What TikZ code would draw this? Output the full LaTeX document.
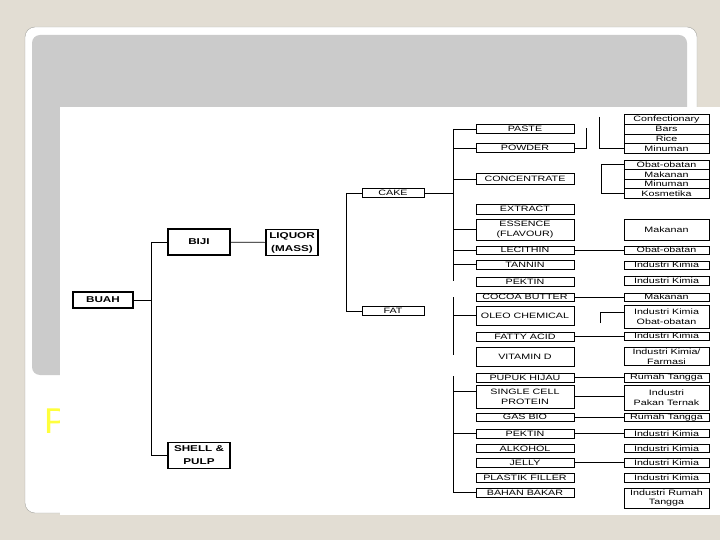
\documentclass[tikz,border=0pt]{standalone}
\usepackage{fontspec}
\setmainfont{Liberation Sans}
\newfontfamily\bagan[FakeStretch=1.38]{Liberation Sans}
\usepackage{tikz}
\usetikzlibrary{positioning}
\definecolor{LatarKrem}{RGB}{226,221,211}
\definecolor{PanelAbu}{RGB}{203,203,203}
\definecolor{GarisBingkai}{RGB}{165,165,160}
\definecolor{KuningJudul}{RGB}{255,255,60}
\tikzset{
  kotak/.style={draw,line width=0.7bp,inner sep=0pt,align=center,
    font=\bagan\fontsize{7.8}{10}\selectfont},
  kiri/.style={kotak,minimum width=98bp},
  kanan/.style={kotak,minimum width=85bp},
  tebal/.style={draw,line width=1.6bp,inner sep=0pt,align=center,
    minimum width=62bp,minimum height=26bp,
    font=\bagan\bfseries\fontsize{8.5}{13}\selectfont},
  garis/.style={line width=0.7bp}
}

\begin{document}
\begin{tikzpicture}[x=1bp,y=-1bp]
  \useasboundingbox (0,0) rectangle (720,540);
  \fill[LatarKrem] (0,0) rectangle (720,540);
  \filldraw[fill=white,draw=GarisBingkai,rounded corners=10bp] (25,27) rectangle (697,513);
  \fill[PanelAbu,rounded corners=8bp] (32,35) rectangle (687,375);
  \node[anchor=base west,inner sep=0pt,text=KuningJudul,
    font=\fontsize{36}{40}\selectfont] (judul) at (44,433) {P};
  \fill[white] (60,107) rectangle (720,515);

  \node[tebal,minimum width=60bp,minimum height=16bp] (buah) at (103,300) {BUAH};
  \node[tebal] (biji) at (199,242) {BIJI};
  \node[tebal,minimum width=52bp] (likuor) at (292,242.5) {LIQUOR\\(MASS)};
  \node[tebal] (kulit) at (199,455.5) {SHELL \&\\PULP};

  \node[kotak,minimum width=62bp,minimum height=9bp] (cake) at (393,193) {CAKE};
  \node[kotak,minimum width=62bp,minimum height=9bp] (fat) at (393,311) {FAT};

  \foreach \n/\y/\h/\t in {paste/129/9/PASTE, powder/148/9/POWDER,
      konsentrat/179/11/CONCENTRATE, ekstrak/209/10/EXTRACT,
      esens/229.5/21/{ESSENCE\\(FLAVOUR)}, lesitin/250/8/LECITHIN,
      tanin/264.5/9/TANNIN, pektina/281.5/9/PEKTIN, kakao/297/8/COCOA BUTTER,
      oleo/315.5/19/OLEO CHEMICAL, asam/336.5/9/FATTY ACID,
      vitamin/356.5/19/VITAMIN D, pupuk/377.5/9/PUPUK HIJAU,
      scp/396.5/23/{SINGLE CELL\\PROTEIN}, gasbio/417/8/GAS BIO,
      pektinb/433.5/9/PEKTIN, alkohol/448.5/8/ALKOHOL, jelly/462.5/9/JELLY,
      plastik/477.5/9/PLASTIK FILLER, bahan/492.5/9/BAHAN BAKAR}
    \node[kiri,minimum height=\h bp] (\n) at (525,\y) {\t};

  \foreach \n/\y/\h/\t in {konf/119.4/9.6/Confectionary, bars/129.2/9.6/Bars,
      rice/138.8/9.6/Rice, minum/148.3/9.6/Minuman,
      obat/164.75/9.5/Obat-obatan, makan/174.25/9.5/Makanan,
      minumb/183.75/9.5/Minuman, kosmetika/193.25/9.5/Kosmetika,
      makana/229.5/21/Makanan, obata/250/8/Obat-obatan,
      kimiaa/265/8/Industri Kimia, kimiab/280.5/9/Industri Kimia,
      makanb/297/8/Makanan, kimiaobat/316.5/23/{Industri Kimia\\Obat-obatan},
      kimiac/336/8/Industri Kimia, farmasi/356.5/18/{Industri Kimia/\\Farmasi},
      rumaha/377.5/9/Rumah Tangga, pakan/397.5/25/{Industri\\Pakan Ternak},
      rumahb/417/8/Rumah Tangga, kimiad/433.5/8/Industri Kimia,
      kimiae/448.5/8/Industri Kimia, kimiaf/462.5/9/Industri Kimia,
      kimiag/477.5/9/Industri Kimia, rumahc/498/20/{Industri Rumah\\Tangga}}
    \node[kanan,minimum height=\h bp] (\n) at (666.5,\y) {\t};

  \coordinate (ba) at (151,242);
  \coordinate (bb) at (151,455.5);
  \draw[garis] (ba) -- (bb);
  \draw[garis] (buah.east) -- (buah.east -| ba);
  \draw[garis] (ba) -- (biji.west);
  \draw[garis] (bb) -- (kulit.west);
  \draw[garis] (biji) -- (likuor);

  \coordinate (ca) at (346,193);
  \coordinate (cb) at (346,311);
  \draw[garis] (ca) -- (cb);
  \draw[garis] (ca) -- (cake.west);
  \draw[garis] (cb) -- (fat.west);

  \coordinate (ta) at (453,129);
  \coordinate (tb) at (453,281);
  \draw[garis] (ta) -- (tb);
  \draw[garis] (cake.east) -- (cake.east -| ta);
  \foreach \n in {paste,powder,konsentrat,esens,lesitin,tanin}
    \draw[garis] (\n.west -| ta) -- (\n.west);

  \coordinate (fa) at (453,297);
  \coordinate (fb) at (453,355);
  \draw[garis] (fa) -- (fb);
  \draw[garis] (oleo.west -| fa) -- (oleo.west);

  \coordinate (sa) at (453,376);
  \coordinate (sb) at (453,492.5);
  \draw[garis] (sa) -- (sb);
  \draw[garis] ([yshift=5bp]scp.west -| sa) -- ([yshift=5bp]scp.west);
  \foreach \n in {pektinb,bahan}
    \draw[garis] (\n.west -| sa) -- (\n.west);

  \foreach \a/\b in {lesitin/obata,kakao/makanb,asam/kimiac,pupuk/rumaha,
      scp/pakan,gasbio/rumahb,pektinb/kimiad,jelly/kimiaf}
    \draw[garis] (\a.east) -- (\a.east -| \b.west);

  \coordinate (kp) at (586,128);
  \draw[garis] (powder.east) -| (kp);
  \coordinate (kk) at (599,117);
  \draw[garis] (kk) |- (minum.west);
  \coordinate (ko) at (601,163);
  \draw[garis] (obat.west) -- (obat.west -| ko) |- (kosmetika.west);
  \coordinate (kl) at (600,323);
  \draw[garis] (kl) |- ([yshift=4.5bp]kimiaobat.west);
\end{tikzpicture}
\end{document}
